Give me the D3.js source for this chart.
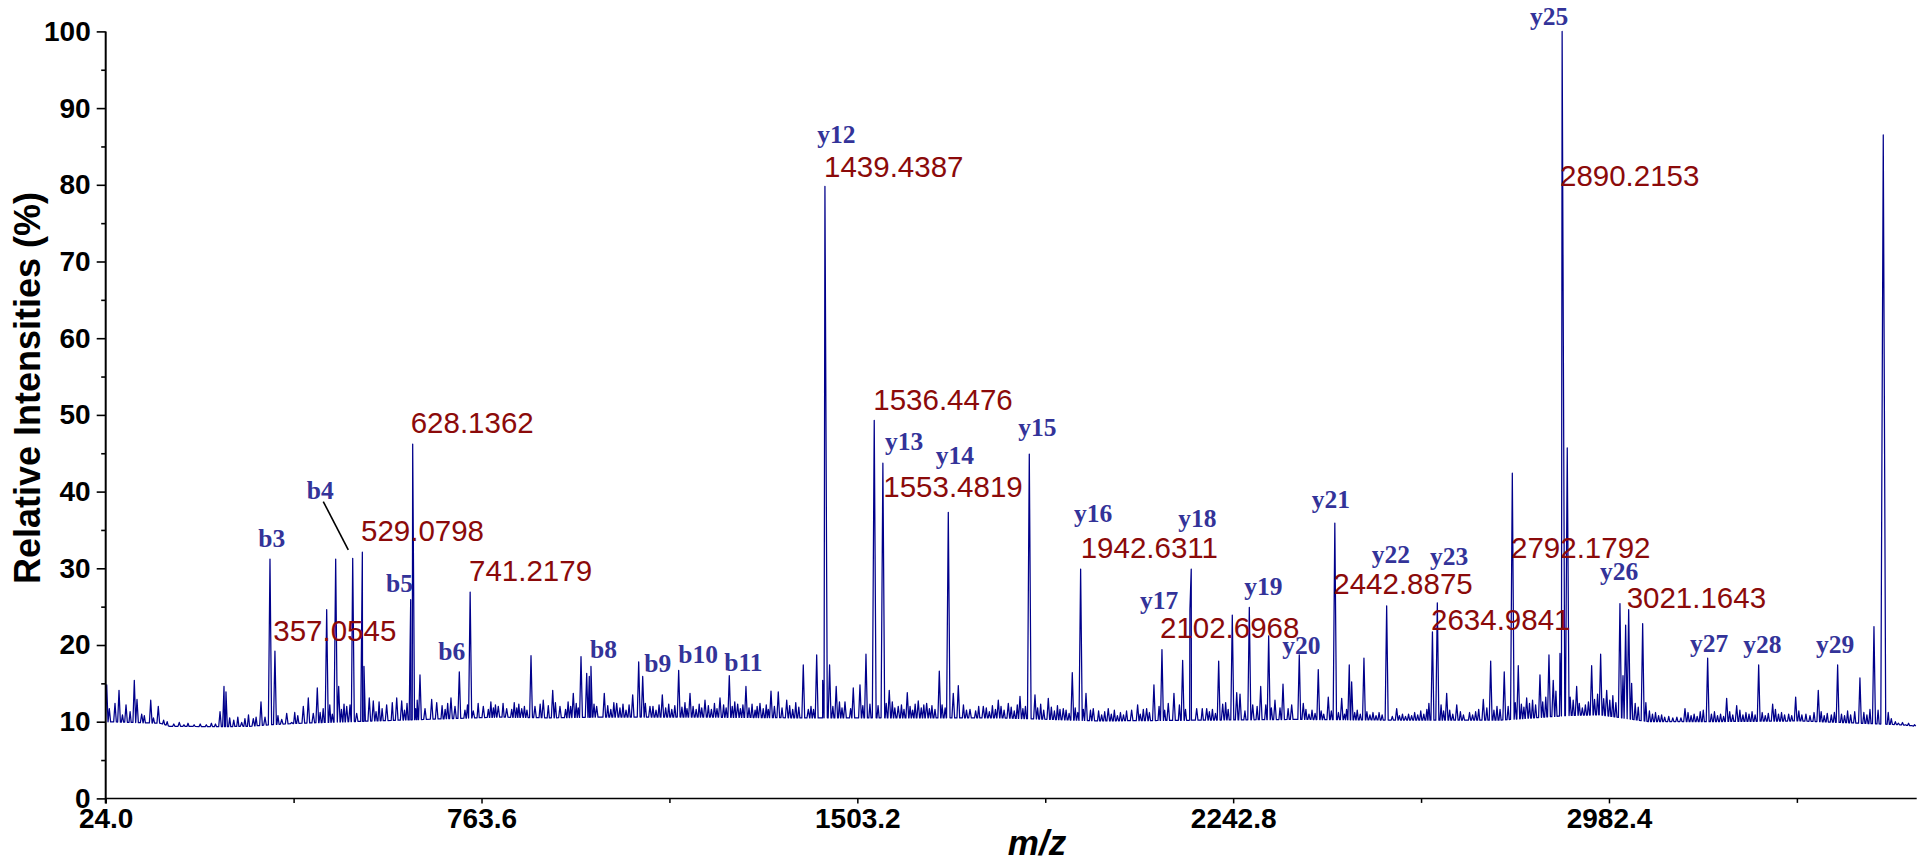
<!DOCTYPE html>
<html><head><meta charset="utf-8">
<script src="https://cdn.jsdelivr.net/npm/d3@7"></script>
<style>body{margin:0;background:#fff;overflow:hidden} svg{display:block}</style>
</head><body>
<svg id="c" width="1929" height="859"></svg>
<script>
// ---------- data ----------
const peakMz = [
 26,31.1,42.3,50.2,64,80.3,85.6,94.8,112.6,127.5,168.8,249,256.8,260.7,291.6,314.5,329.6,337.5,347.3,357.05,
 370.4,380.2,390,412.9,422.7,432.5,440.4,458.9,476.6,482.5,498.3,504.8,510.1,517.9,529.08,532.3,542.7,550.6,576.9,596.7,
 606.5,624.2,628.14,642.5,652.4,665.5,675.4,703.5,711.4,719.9,741.22,747.4,767.1,796.6,813.1,842.7,861,868.8,885.1,903.7,
 918,944.2,959.4,970.6,975.7,979,990.2,
 1005.2,1029.6,1061.1,1072.9,1080.8,1095.1,1119.4,1151.6,1173.9,1203.4,1232.9,1251.2,1267.7,1284,1311.6,1333.3,1347.6,1364.2,
 1396.8,1406.7,1423.2,1435,1439.44,1448.6,1461.6,1478.9,1495.2,1508.4,1520.2,1536.45,1553.48,1566,1583.7,1601.5,1623.1,1639.6,
 1664.5,1682.2,1692,1701.9,1724.9,1751.1,1780.6,1800.3,1823.3,1841.6,1852.8,1879,
 1908.5,1926.2,1942.63,1953.2,1967.5,1997,2043,2054.8,2072.5,2086.9,2102.70,2115.1,2126.3,2143.4,2157.7,2160.3,2171,2190.7,
 2214.3,2222.2,2241.1,2249.8,2256.3,2274.6,2281.3,2297,2312.7,2325.1,2340.9,2358,2372.9,2380.8,2410.3,2430,2442.89,2456.4,
 2471.3,2476,2500.2,2544.9,2564.6,2634.98,2644.6,2663,2682.8,2735.1,2749.6,
 2776.3,2792.18,2803.9,2820.4,2846.6,2864.3,2872.7,2886,2890.22,2900.3,2918.8,2948.3,2966,2977.9,3004,3015.2,3021.16,3048.7,
 3132,3176.6,3214,3233.7,3277,3304.5,3349.8,3394.3,3432.4,3476.3,3503.9,3522.2
];
const peakInt = [
 14.8,11.7,12.4,14.1,12.2,15.4,12.9,11,12.8,12,9.9,11.3,14.6,13.9,9.9,10.4,12.6,10.6,31.2,19.2,
 10.3,11.1,9.9,12,13.1,11.1,14.4,24.6,31.2,14.6,12,12.2,31.3,11.1,32.1,17.2,13.1,12.7,12.2,13.1,
 12.7,25.9,46.2,16.1,11.7,12.9,12.5,13.1,12,16.5,26.9,11.4,12,12,11.7,11.7,18.6,12,12.8,14.1,
 12,13.7,18.5,16.3,15.9,17.2,12,
 13.7,12.4,13.5,17.8,15.9,12,13.5,16.7,13.7,12.8,13.1,16,12.3,14.6,12.4,14,13.9,12.8,
 17.4,11.6,18.7,15.4,79.8,17.4,14.6,12.6,14.4,14.8,18.8,49.3,43.7,14.1,12,13.8,12.7,12.4,
 16.6,37.3,13.7,14.7,11.6,12,12.8,12.4,13.3,44.9,13.5,13.05,
 11.7,16.4,29.9,13.7,11.7,11.7,11.5,12.2,11.7,14.8,19.4,12.4,13.7,18,24.6,29.9,11.7,11.7,
 17.9,12.3,23.9,13.8,13.6,24.9,12.2,14.6,21.2,12.8,14.9,12.2,18.7,12.4,16.8,13.2,35.9,13.05,
 17.4,15.2,18.3,25.1,11.7,21.7,25.5,13.7,12.2,12.9,17.9,
 16.5,42.4,17.3,13.1,16.1,18.7,15.4,18.9,100,45.7,14.6,17.3,18.8,14.1,25.4,22.6,24.6,22.8,
 11.7,18.3,13.05,12.1,17.4,12.3,13.2,14.1,17.4,15.7,22.4,86.5
];
// small noise spikes of the baseline band
const noiseMz = [
 36,57,72,100,118,138,145,158,178,186,198,210,222,232,240,268,276,284,298,305,320,342,
 352,363,375,385,396,402,408,418,427,436,446,452,465,470,488,493,514,522,537,546,556,562,568,572,582,588,592,601,612,617,
 634,637,647,657,661,670,680,686,692,697,708,715,725,731,736,752,757,762,772,777,782,787,791,801,806,818,823,828,833,837,
 848,853,857,873,879,890,895,909,913,923,929,934,939,950,954,964,985,995,
 1012,1018,1024,1036,1042,1048,1054,1066,1086,1090,1101,1107,1113,1126,1132,1138,1144,1158,1164,1168,1180,1186,1192,1197,
 1210,1216,1222,1227,1240,1245,1257,1262,1273,1278,1290,1296,1302,1306,1318,1324,1328,1340,1355,1370,1376,1382,1388,1401,
 1412,1417,1428,1455,1468,1473,1484,1490,1500,1514,1528,1544,1560,1572,1577,1590,1595,1607,1612,1617,1629,1634,1645,1650,
 1656,1670,1676,1688,1697,1707,1712,1718,1730,1736,1742,1746,1757,1763,1769,1775,1786,1792,1806,1812,1818,1829,1834,1858,
 1864,1870,1885,1891,1897,1902,
 1914,1920,1932,1937,1948,1958,1962,1972,1978,1984,1990,2003,2009,2015,2021,2027,2033,2038,2048,2060,2066,2078,2082,2092,
 2097,2108,2120,2131,2137,2149,2153,2165,2176,2182,2186,2196,2202,2208,2219,2228,2233,2237,2245,2253,2261,2266,2270,2285,
 2290,2302,2307,2318,2330,2335,2346,2351,2363,2368,2376,2386,2392,2398,2404,2416,2421,2436,2450,2462,2466,2482,2487,2493,
 2506,2512,2518,2524,2530,2536,2550,2556,2570,2576,2582,2588,2594,2600,2606,2612,2618,2624,2628,2652,2657,2669,2675,2690,
 2696,2708,2714,2720,2726,2742,2756,2762,2768,2784,2798,2810,2815,2826,2832,2838,2842,2852,2858,2868,2878,2882,2895,2906,
 2912,2924,2930,2936,2942,2954,2960,2972,2984,2990,2996,3010,3027,3034,3040,3055,3062,3068,3074,3080,3086,3092,3100,3108,
 3116,3124,3138,3144,3150,3156,3162,3168,3184,3190,3196,3202,3208,3220,3226,3240,3246,3252,3258,3264,3270,3284,3290,3296,
 3310,3316,3322,3328,3336,3342,3356,3362,3370,3378,3386,3400,3406,3412,3420,3426,3440,3446,3452,3458,3466,3484,3490,3496,
 3512,3532,3538,3546,3552,3560,3566,3572,3578,3584
];
const noiseInt = [
 10.6,10.9,11.3,10.8,10.5,10.2,10.0,9.7,9.6,9.8,9.6,9.7,9.6,9.8,9.7,10.5,10.2,10.6,10.4,10.9,10.6,11.4,
 11.0,10.8,11.6,10.5,11.2,10.8,11.8,11.0,11.5,12.0,11.2,11.7,12.2,11.0,11.6,12.3,11.8,12.4,11.5,12.0,11.3,12.6,11.7,11.2,11.9,12.5,11.4,11.8,11.5,12.4,
 11.7,12.8,11.9,12.3,11.4,11.8,11.2,12.1,11.6,12.4,11.8,11.4,12.0,11.5,12.2,11.9,12.4,11.5,12.3,11.6,12.6,11.8,12.2,11.6,12.4,12.0,11.6,12.5,11.8,12.3,
 12.0,11.5,12.4,11.9,12.3,11.7,12.1,12.5,11.7,12.2,11.6,12.6,12.0,12.4,11.8,12.2,12.3,11.7,
 12.1,11.6,12.5,11.8,12.3,11.5,12.2,11.9,12.4,11.7,12.0,11.5,12.2,11.8,12.3,11.6,12.1,11.9,12.5,11.7,12.0,11.6,12.3,11.8,
 12.1,11.6,12.4,11.7,12.2,11.8,12.0,12.6,11.7,12.2,11.8,12.3,11.5,12.0,11.7,12.2,11.6,12.0,11.8,12.1,11.6,12.5,11.9,12.2,
 12.0,11.6,12.3,12.0,12.6,11.8,12.2,11.7,12.4,12.1,12.3,12.1,12.4,12.6,11.8,12.2,11.6,12.0,11.5,12.3,11.8,12.2,11.7,12.1,
 11.6,12.2,11.8,12.4,12.0,11.7,12.2,11.5,11.9,11.4,12.0,11.5,11.8,11.3,12.1,11.6,12.0,11.5,11.9,11.4,12.2,11.7,12.0,11.8,
 12.3,11.5,11.9,11.4,12.1,11.6,
 11.5,11.1,11.8,11.2,11.6,11.0,11.5,11.0,11.4,10.9,11.3,11.0,11.5,10.8,11.2,10.9,11.4,10.8,11.3,11.0,11.6,11.2,12.0,11.4,
 12.0,11.5,11.9,11.4,12.2,11.6,12.1,11.5,11.2,11.7,11.0,11.3,11.6,11.1,12.0,12.5,11.6,12.4,12.8,12.2,12.0,11.4,12.3,11.6,
 12.0,11.5,12.2,11.8,11.3,11.8,11.2,11.7,11.1,11.9,11.3,11.6,11.0,11.5,11.1,11.4,11.0,11.4,11.2,11.0,11.6,11.2,11.5,11.0,
 11.3,10.9,11.2,10.8,11.2,10.9,11.0,10.7,10.8,11.0,10.7,11.0,10.8,11.2,10.9,11.4,11.0,11.6,12.4,12.2,11.4,11.5,11.0,11.3,
 10.9,11.2,10.9,11.3,11.6,11.8,11.5,12.0,11.6,12.0,12.5,12.3,11.9,12.4,12.8,12.2,13.0,12.6,13.2,13.5,14.0,13.2,14.0,13.2,
 12.8,12.4,11.8,12.2,12.6,12.9,13.6,13.0,12.8,13.4,12.5,16.0,15.0,12.4,11.9,12.5,11.4,11.0,11.2,10.8,10.9,10.6,10.7,10.5,
 10.6,10.5,11.2,10.8,11.0,10.7,11.3,11.5,11.0,11.3,10.8,11.0,10.7,11.3,10.9,11.5,10.9,11.2,11.0,11.3,10.9,11.2,10.8,11.1,
 11.6,11.0,11.2,10.9,11.0,10.8,11.4,10.9,11.0,10.8,11.2,11.3,10.8,11.1,10.9,11.2,11.0,10.8,11.4,10.9,11.3,11.2,10.9,11.6,
 11.5,11.2,10.4,10.0,9.8,9.9,9.6,9.8,9.5,9.6
];
const baseMz  = [24,131,150,249,308,347,406,505,603,701,800,898,997,1193,1390,1587,1784,1981,2177,2374,2571,2768,2900,2964,3062,3161,3358,3555,3588];
const baseInt = [10.0,9.8,9.4,9.35,9.4,9.6,9.8,10.0,10.2,10.4,10.6,10.5,10.6,10.6,10.5,10.5,10.5,10.1,10.2,10.3,10.2,10.2,10.8,10.9,10.0,10.0,10.1,9.6,9.4];

const xTickValues = [24.0, 763.6, 1503.2, 2242.8, 2982.4];
const xMinorTicks = [393.8, 1133.4, 1873.0, 2612.6, 3352.2];
const yTickValues = [0,10,20,30,40,50,60,70,80,90,100];
const yMinorTicks = [5,15,25,35,45,55,65,75,85,95];

const ionLabels = ["b3","b4","b5","b6","b8","b9","b10","b11","y12","y13","y14","y15","y16","y17","y18","y19","y20","y21","y22","y23","y25","y26","y27","y28","y29"];
const ionMz  = [324.3,419.6,575.6,678.5,977.1,1084,1150.8,1241.4,1424.4,1557.6,1657.4,1820,1929.5,2059.4,2134.8,2264.7,2339.5,2397.3,2515.4,2630.2,2826.9,2964.7,3141.8,3246.6,3389.8];
const ionInt = [32.8,39.1,26.9,18.0,18.3,16.5,17.7,16.6,85.4,45.4,43.6,47.2,36.1,24.7,35.4,26.5,18.8,37.8,30.7,30.4,100.8,28.5,19.1,19.0,19.0];

const massLabels = ["357.0545","529.0798","628.1362","741.2179","1439.4387","1536.4476","1553.4819","1942.6311","2102.6968","2442.8875","2634.9841","2792.1792","2890.2153","3021.1643"];
const massMz  = [353.8,526.4,624.2,739,1437.6,1534.6,1554.3,1942.7,2098.8,2439.8,2632.2,2789.6,2886,3017.2];
const massInt = [20.5,33.5,47.6,28.3,81.0,50.6,39.3,31.3,20.9,26.7,21.9,31.3,79.8,24.8];

const leaderMz  = [452.2, 501.4];
const leaderInt = [38.7, 32.4];

// ---------- chart ----------
const svg = d3.select("#c");
const X0 = 105.7, X1 = 1916.7, Y0 = 798.4, Y1 = 31.4;
const x = d3.scaleLinear().domain([24, 3588]).range([X0, X1]);
const y = d3.scaleLinear().domain([0, 100]).range([Y0, Y1]);
const base = d3.scaleLinear().domain(baseMz).range(baseInt);

svg.append("defs").append("clipPath").attr("id","clip")
  .append("rect").attr("x",X0).attr("y",0).attr("width",X1-X0).attr("height",Y0);

// spectrum profile: main peaks + noise spikes, each drawn as a narrow spike on the baseline
const peakPx = peakMz.map(m => x(m));
const spikes = peakMz.map((m,i)=>[m, peakInt[i], true]);
noiseMz.forEach((m,i) => {
  const px = x(m);
  if (!peakPx.some(p => Math.abs(p-px) < 2.6)) spikes.push([m, noiseInt[i], false]);
});
const pts = [];
spikes.forEach(([m,h,main]) => {
  const w = main ? 1.3 + Math.max(0, h-10)*0.015 : 1.1;
  const px = x(m);
  pts.push([x.invert(px-w), base(x.invert(px-w))]);
  pts.push([m, h]);
  pts.push([x.invert(px+w), base(x.invert(px+w))]);
});
const spikePx = spikes.map(s => x(s[0]));
baseMz.forEach((m,i) => {
  const px = x(m);
  if (!spikePx.some(p => Math.abs(p-px) < 2.5)) pts.push([m, baseInt[i]]);
});
pts.sort((a,b)=>a[0]-b[0]);

svg.append("path")
  .attr("clip-path","url(#clip)")
  .attr("d", d3.line().x(d=>x(d[0])).y(d=>y(d[1]))(pts))
  .attr("fill","none").attr("stroke","#00008b").attr("stroke-width",1.25)
  .attr("stroke-linejoin","round");

// axes
const tickFont = "'Liberation Sans', Arial, sans-serif";
const gy = svg.append("g").attr("transform",`translate(${X0},0)`)
  .call(d3.axisLeft(y).tickValues(yTickValues).tickSize(9).tickPadding(6).tickFormat(d3.format("d")));
gy.select(".domain").remove();
gy.selectAll("line").attr("stroke","#000").attr("stroke-width",1.6);
gy.selectAll("text").attr("font-family",tickFont).attr("font-weight","bold").attr("font-size",28).attr("fill","#000");

const gym = svg.append("g").attr("transform",`translate(${X0},0)`)
  .call(d3.axisLeft(y).tickValues(yMinorTicks).tickSize(4.5).tickFormat(""));
gym.select(".domain").remove();
gym.selectAll("line").attr("stroke","#000").attr("stroke-width",1.6);

const gx = svg.append("g").attr("transform",`translate(0,${Y0})`)
  .call(d3.axisBottom(x).tickValues(xTickValues).tickSize(5).tickFormat(d3.format(".1f")));
gx.select(".domain").remove();
gx.selectAll("line").attr("stroke","#000").attr("stroke-width",1.5);
gx.selectAll("text").attr("font-family",tickFont).attr("font-weight","bold").attr("font-size",28)
  .attr("fill","#000").attr("y",30).attr("dy",0);

const gxm = svg.append("g").attr("transform",`translate(0,${Y0})`)
  .call(d3.axisBottom(x).tickValues(xMinorTicks).tickSize(4.5).tickFormat(""));
gxm.select(".domain").remove();
gxm.selectAll("line").attr("stroke","#000").attr("stroke-width",1.5);

svg.append("line").attr("x1",X0).attr("x2",X1).attr("y1",Y0).attr("y2",Y0)
  .attr("stroke","#000").attr("stroke-width",1.5);
svg.append("line").attr("x1",X0).attr("x2",X0).attr("y1",Y1).attr("y2",Y0+5)
  .attr("stroke","#000").attr("stroke-width",2);

// axis titles
svg.append("text").attr("transform",`translate(40,388) rotate(-90)`)
  .attr("text-anchor","middle").attr("font-family",tickFont).attr("font-weight","bold")
  .attr("font-size",36).text("Relative Intensities (%)");
svg.append("text").attr("x",1037).attr("y",855).attr("text-anchor","middle")
  .attr("font-family",tickFont).attr("font-weight","bold").attr("font-style","italic")
  .attr("font-size",35).text("m/z");

// annotations
svg.append("line").attr("x1",x(leaderMz[0])).attr("y1",y(leaderInt[0]))
  .attr("x2",x(leaderMz[1])).attr("y2",y(leaderInt[1]))
  .attr("stroke","#000").attr("stroke-width",1.6);

svg.append("g").selectAll("text").data(massLabels).join("text")
  .attr("x",(d,i)=>x(massMz[i])).attr("y",(d,i)=>y(massInt[i]))
  .attr("font-family",tickFont).attr("font-size",29.5).attr("fill","#8b0a0a")
  .text(d=>d);

svg.append("g").selectAll("text").data(ionLabels).join("text")
  .attr("x",(d,i)=>x(ionMz[i])).attr("y",(d,i)=>y(ionInt[i]))
  .attr("font-family","'Liberation Serif','Times New Roman',serif").attr("font-weight","bold")
  .attr("font-size",25.5).attr("fill","#333399")
  .text(d=>d);
</script>
</body></html>
